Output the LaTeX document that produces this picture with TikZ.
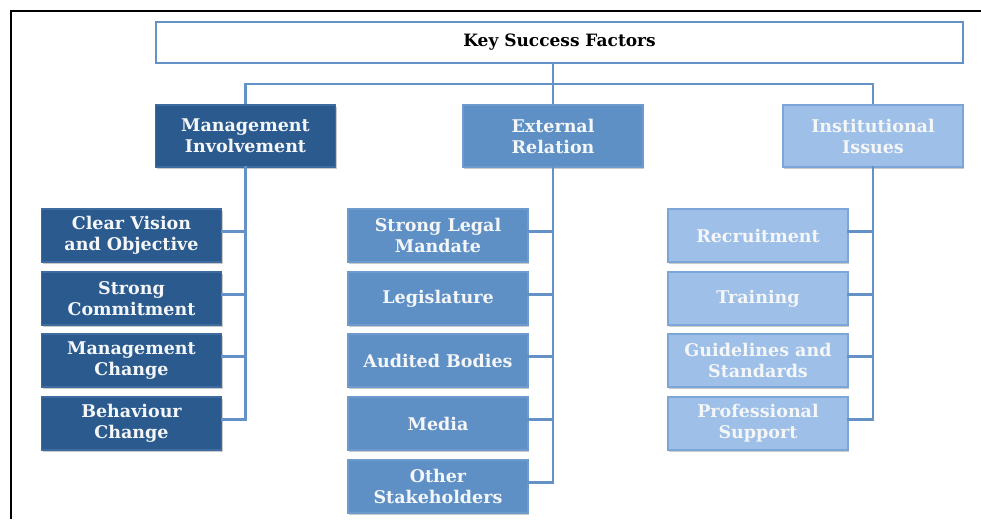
\documentclass[tikz,border=0pt]{standalone}
\usepackage{fontspec}
\setmainfont{DejaVu Serif}
\usetikzlibrary{shadows}
\definecolor{conn}{HTML}{6592C6}
\definecolor{darkfill}{HTML}{2B5B8E}
\definecolor{darkedge}{HTML}{3E6C9E}
\definecolor{midfill}{HTML}{5F90C5}
\definecolor{midedge}{HTML}{6E9BCD}
\definecolor{lightfill}{HTML}{9EBFE7}
\definecolor{lightedge}{HTML}{7DA6D8}
\definecolor{boxtext}{HTML}{F4F6F8}
\tikzset{
  box/.style={rectangle, line width=1.2pt, align=center, inner sep=0pt,
    font=\bfseries\fontsize{17.5}{21}\selectfont, text=boxtext,
    drop shadow={shadow xshift=1pt, shadow yshift=-2pt, opacity=0.35, fill=black!60}},
  keybox/.style={rectangle, draw=conn, line width=1.6pt, fill=white,
    minimum width=807pt, minimum height=41pt, inner sep=0pt,
    font=\bfseries\fontsize{17}{20}\selectfont, text=black},
  headbox/.style={box, minimum width=180pt, minimum height=62pt},
  leafbox/.style={box, minimum width=180pt, minimum height=53pt},
  darkbox/.style={fill=darkfill, draw=darkedge},
  midbox/.style={fill=midfill, draw=midedge},
  lightbox/.style={fill=lightfill, draw=lightedge},
  link/.style={draw=conn, line width=2.6pt, line cap=rect},
}
\begin{document}
\begin{tikzpicture}[x=1pt, y=-1pt]
  \useasboundingbox (0,0) rectangle (981,519);
  % outer frame, open on the right and at the bottom
  \draw[line width=2pt, black] (10.5,519) -- (10.5,11) -- (981,11);

  % connectors first, so the boxes sit on top of them
  \coordinate (bus) at (553,84);
  \coordinate (keyfoot) at (553,63);
  \coordinate (mtop) at (245.5,105);
  \coordinate (etop) at (553,105);
  \coordinate (itop) at (873,105);
  \path[link] (keyfoot) -- (bus);
  \path[link] (mtop) |- (bus) -| (itop);
  \path[link] (bus) -- (etop);

  % top of the tree
  \node[keybox] (key) at (559.5,42.5) {Key Success Factors};

  \node[headbox, darkbox] (mgmt) at (245.5,136) {Management\\Involvement};
  \node[headbox, midbox]  (ext)  at (553,136)   {External\\Relation};
  \node[headbox, lightbox](inst) at (873,136)   {Institutional\\Issues};

  % management branch
  \node[leafbox, darkbox] (m1) at (131.5,235.5) {Clear Vision\\and Objective};
  \node[leafbox, darkbox] (m2) at (131.5,298.5) {Strong\\Commitment};
  \node[leafbox, darkbox] (m3) at (131.5,360.5) {Management\\Change};
  \node[leafbox, darkbox] (m4) at (131.5,423.5) {Behaviour\\Change};

  % external branch
  \node[leafbox, midbox] (e1) at (438,235.5) {Strong Legal\\Mandate};
  \node[leafbox, midbox] (e2) at (438,298.5) {Legislature};
  \node[leafbox, midbox] (e3) at (438,360.5) {Audited Bodies};
  \node[leafbox, midbox] (e4) at (438,423.5) {Media};
  \node[leafbox, midbox] (e5) at (438,486.5) {Other\\Stakeholders};

  % institutional branch
  \node[leafbox, lightbox] (i1) at (758,235.5) {Recruitment};
  \node[leafbox, lightbox] (i2) at (758,298.5) {Training};
  \node[leafbox, lightbox] (i3) at (758,360.5) {Guidelines and\\Standards};
  \node[leafbox, lightbox] (i4) at (758,423.5) {Professional\\Support};

  % spines and branches below each heading
  \path[link] (mgmt.south) |- ([yshift=4pt]m4.east);
  \foreach \n in {m1,m2,m3}
    \path[link] ([yshift=4pt]\n.east) -- ([yshift=4pt]\n.east -| mgmt.south);

  \path[link] (ext.south) |- ([yshift=4pt]e5.east);
  \foreach \n in {e1,e2,e3,e4}
    \path[link] ([yshift=4pt]\n.east) -- ([yshift=4pt]\n.east -| ext.south);

  \path[link] (inst.south) |- ([yshift=4pt]i4.east);
  \foreach \n in {i1,i2,i3}
    \path[link] ([yshift=4pt]\n.east) -- ([yshift=4pt]\n.east -| inst.south);
\end{tikzpicture}
\end{document}
